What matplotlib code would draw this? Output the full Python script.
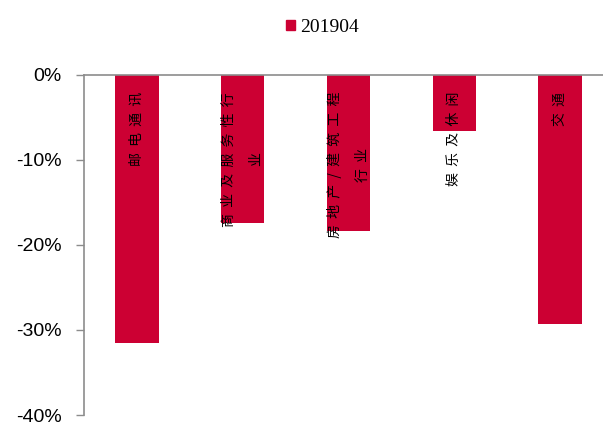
import matplotlib
matplotlib.use("Agg")
import matplotlib.pyplot as plt
from matplotlib.ticker import FuncFormatter

categories = ["邮电通讯", "商业及服务性行\n业", "房地产/建筑工程\n行业", "娱乐及休闲", "交通"]
values = [-0.315, -0.174, -0.184, -0.066, -0.293]
series_name = "201904"
yticks = [0, -0.1, -0.2, -0.3, -0.4]

bar_color = "#CC0033"
axis_color = "#8C8C8C"

fig = plt.figure(figsize=(6.03, 4.25), dpi=100)
ax = fig.add_axes([84 / 603, 10 / 425, 529 / 603, 340 / 425])

x = list(range(len(categories)))
ax.bar(x, values, width=0.41, color=bar_color, label=series_name, zorder=2)


def spaced(s):
    return "\n".join("  ".join(line) for line in s.split("\n"))


for xi, lab in zip(x, categories):
    ax.text(xi, -0.02, spaced(lab), rotation=90, ha="center", va="top",
            multialignment="center", fontsize=10, color="black",
            family=["Noto Sans CJK SC", "DejaVu Sans"], zorder=3, linespacing=2.2)

ax.set_xlim(-0.5, len(categories) - 0.5)
ax.set_ylim(-0.4, 0)
ax.set_yticks(yticks)
ax.yaxis.set_major_formatter(FuncFormatter(lambda v, p: f"{v*100:.0f}%"))
ax.set_xticks([])
for lbl in ax.get_yticklabels():
    lbl.set_family("Liberation Sans")
    lbl.set_fontsize(14)
ax.tick_params(axis="y", direction="out", length=6, color=axis_color, width=1, pad=10)

ax.spines["right"].set_visible(False)
ax.spines["bottom"].set_visible(False)
ax.spines["top"].set_color(axis_color)
ax.spines["left"].set_color(axis_color)
ax.spines["top"].set_linewidth(1.2)
ax.spines["left"].set_linewidth(1.2)

fig.legend(handles=[plt.Rectangle((0, 0), 1, 1, color=bar_color)], labels=[series_name],
           loc="center", bbox_to_anchor=(0.535, 0.935), frameon=False,
           handlelength=0.45, handleheight=0.45, handletextpad=0.3,
           prop={"family": "Liberation Serif", "size": 14})

fig.savefig("out.png", dpi=100)
